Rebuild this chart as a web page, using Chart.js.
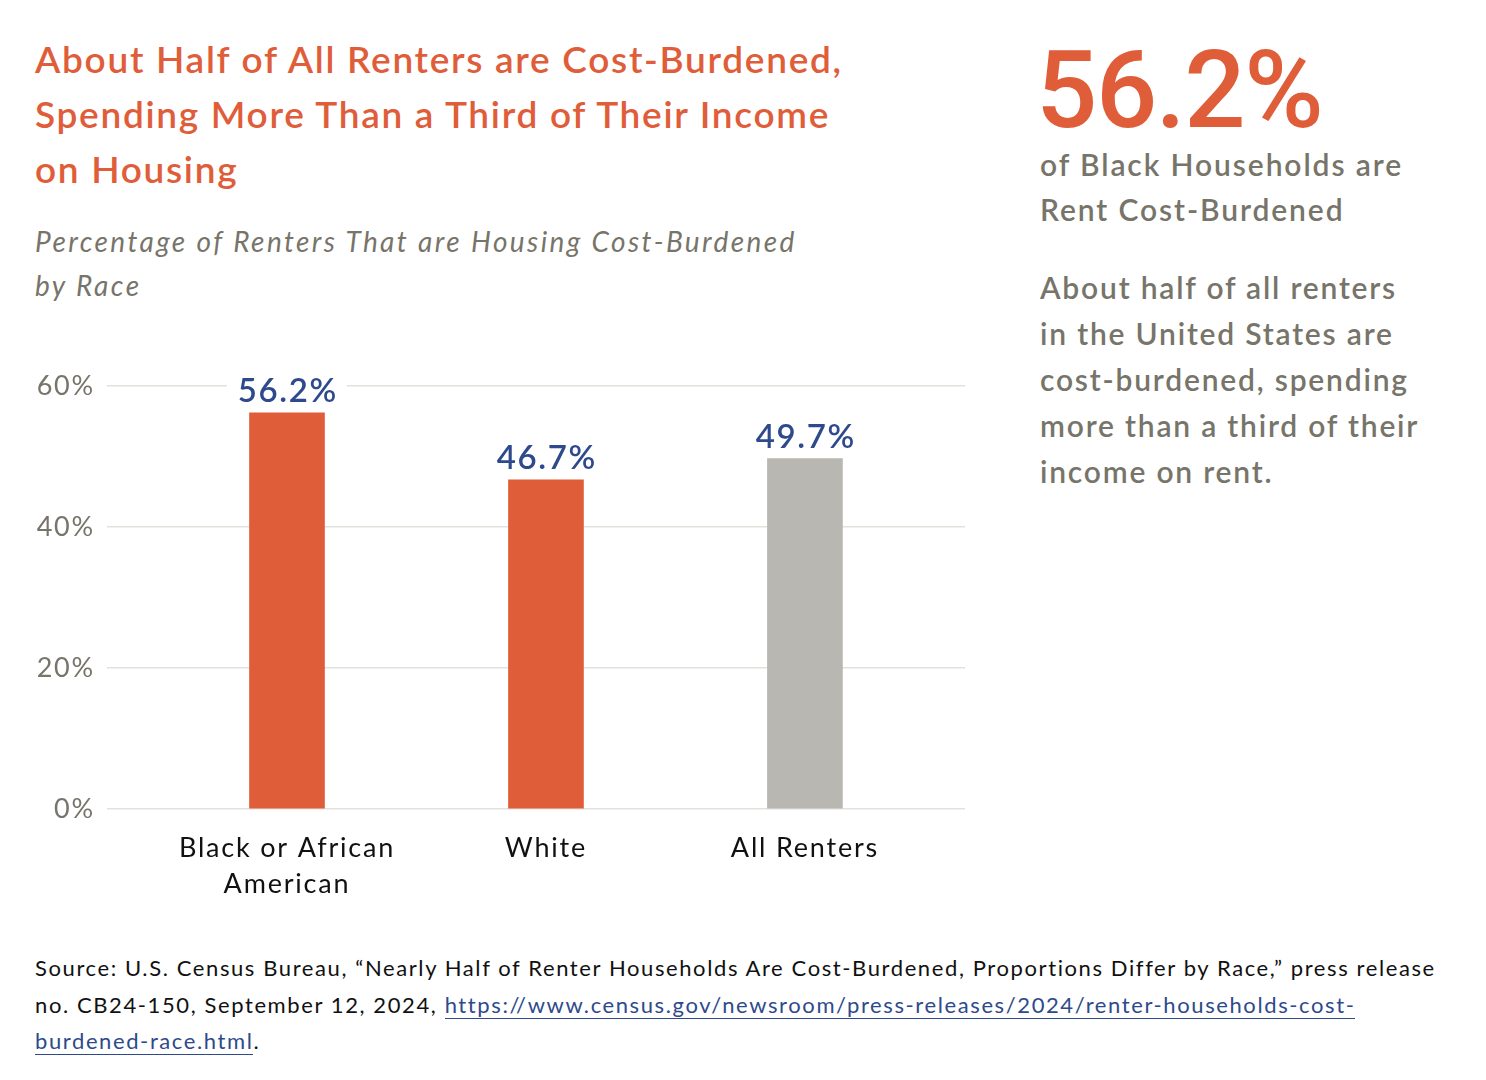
<!DOCTYPE html>
<html>
<head>
<meta charset="utf-8">
<script src="https://cdn.jsdelivr.net/npm/chart.js@4"></script>
<style>
  html, body { margin:0; padding:0; background:#fff; }
  body { width:1486px; height:1080px; position:relative; overflow:hidden; font-family: Lato, "Noto Sans", sans-serif; }
  .abs { position:absolute; white-space:nowrap; }
  #title { left:35px; top:31px; color:#e05d3a; font-size:37px; font-weight:600; line-height:55px; letter-spacing:1.7px; }
  #subtitle { left:35px; top:219px; color:#77746a; font-size:28px; font-style:italic; line-height:44px; letter-spacing:2.4px; }
  #big { left:1036px; top:30px; color:#e05d3a; font-family: Roboto, "Liberation Sans", sans-serif; font-size:108px; font-weight:500; line-height:120px; letter-spacing:-1.5px; }
  #bigsub { left:1040px; top:142px; color:#77746a; font-size:30px; font-weight:600; line-height:45px; letter-spacing:1.9px; }
  #para { left:1040px; top:264px; color:#77746a; font-size:30px; font-weight:600; line-height:46px; letter-spacing:1.8px; }
  #source { left:35px; top:950px; color:#111; font-size:22px; line-height:36.5px; letter-spacing:1.6px; }
  #source a { color:#2e4a8c; text-decoration:none; border-bottom:1.5px solid #2e4a8c; }
  #wrap { position:absolute; left:0; top:0; width:1000px; height:920px; }
</style>
</head>
<body>
<div id="title" class="abs">About Half of All Renters are Cost-Burdened,<br>Spending More Than a Third of Their Income<br>on Housing</div>
<div id="subtitle" class="abs">Percentage of Renters That are Housing Cost-Burdened<br>by Race</div>
<div id="big" class="abs">56.2%</div>
<div id="bigsub" class="abs">of Black Households are<br>Rent Cost-Burdened</div>
<div id="para" class="abs">About half of all renters<br>in the United States are<br>cost-burdened, spending<br>more than a third of their<br>income on rent.</div>
<div id="source" class="abs">Source: U.S. Census Bureau, “Nearly Half of Renter Households Are Cost-Burdened, Proportions Differ by Race,” press release<br>no. CB24-150, September 12, 2024, <a href="#">https://www.census.gov/newsroom/press-releases/2024/renter-households-cost-</a><br><a href="#">burdened-race.html</a>.</div>
<div id="wrap"><canvas id="c"></canvas></div>
<script>
const categories = [["Black or African", "American"], ["White"], ["All Renters"]];
const values = [56.2, 46.7, 49.7];
const valueLabels = ["56.2%", "46.7%", "49.7%"];
const barColors = ["#e05d3a", "#e05d3a", "#b8b7b1"];
const yTicks = [0, 20, 40, 60];

const SPACING = '1.8px';

const spacingPlugin = {
  id: 'spacing',
  beforeUpdate(chart) { chart.ctx.letterSpacing = SPACING; },
  beforeLayout(chart) { chart.ctx.letterSpacing = SPACING; },
  beforeDraw(chart) { chart.ctx.letterSpacing = SPACING; }
};

const labelPlugin = {
  id: 'valueLabels',
  afterDatasetsDraw(chart) {
    const ctx = chart.ctx;
    const meta = chart.getDatasetMeta(0);
    ctx.save();
    ctx.letterSpacing = '1.6px';
    ctx.font = '600 33px Lato, "Noto Sans", sans-serif';
    ctx.textAlign = 'center';
    ctx.textBaseline = 'alphabetic';
    meta.data.forEach((bar, i) => {
      const txt = valueLabels[i];
      const w = ctx.measureText(txt).width;
      const base = bar.y - 11;
      ctx.fillStyle = '#ffffff';
      ctx.fillRect(bar.x - w / 2 - 10, base - 33, w + 20, 39);
      ctx.fillStyle = '#2e4a8c';
      ctx.fillText(txt, bar.x + 0.8, base);
    });
    ctx.restore();
  }
};

new Chart(document.getElementById('c'), {
  type: 'bar',
  data: {
    datasets: [{
      data: values.map((v, i) => ({ x: i, y: v })),
      backgroundColor: barColors,
      barThickness: 75,
      borderWidth: 0
    }]
  },
  options: {
    responsive: true,
    maintainAspectRatio: false,
    animation: false,
    devicePixelRatio: 1,
    layout: { padding: { top: 386, right: 35, bottom: 11, left: 0 } },
    plugins: { legend: { display: false }, tooltip: { enabled: false } },
    scales: {
      x: {
        type: 'linear',
        offset: false,
        bounds: 'ticks',
        min: -0.695,
        max: 2.618,
        afterDataLimits(scale) { scale.min = -0.695; scale.max = 2.618; },
        afterBuildTicks(scale) { scale.ticks = categories.map((c, i) => ({ value: i })); },
        afterFit(scale) { scale.height = 100; },
        grid: { display: false, offset: false },
        border: { display: false },
        ticks: {
          autoSkip: false,
          maxRotation: 0,
          padding: 13,
          color: '#111111',
          font: { family: 'Lato, "Noto Sans", sans-serif', size: 27, lineHeight: 1.33 },
          callback(v) { return categories[v] || ''; }
        }
      },
      y: {
        min: 0,
        max: 60,
        afterBuildTicks(scale) { scale.ticks = yTicks.map(v => ({ value: v })); },
        afterFit(scale) { scale.width = 107; },
        grid: { color: '#e2e1dc', lineWidth: 1.5, drawTicks: false },
        border: { display: false },
        ticks: {
          padding: 12,
          color: '#77746a',
          font: { family: 'Lato, "Noto Sans", sans-serif', size: 27 },
          callback(v) { return v + '%'; }
        }
      }
    }
  },
  plugins: [spacingPlugin, labelPlugin]
});
</script>
</body>
</html>
